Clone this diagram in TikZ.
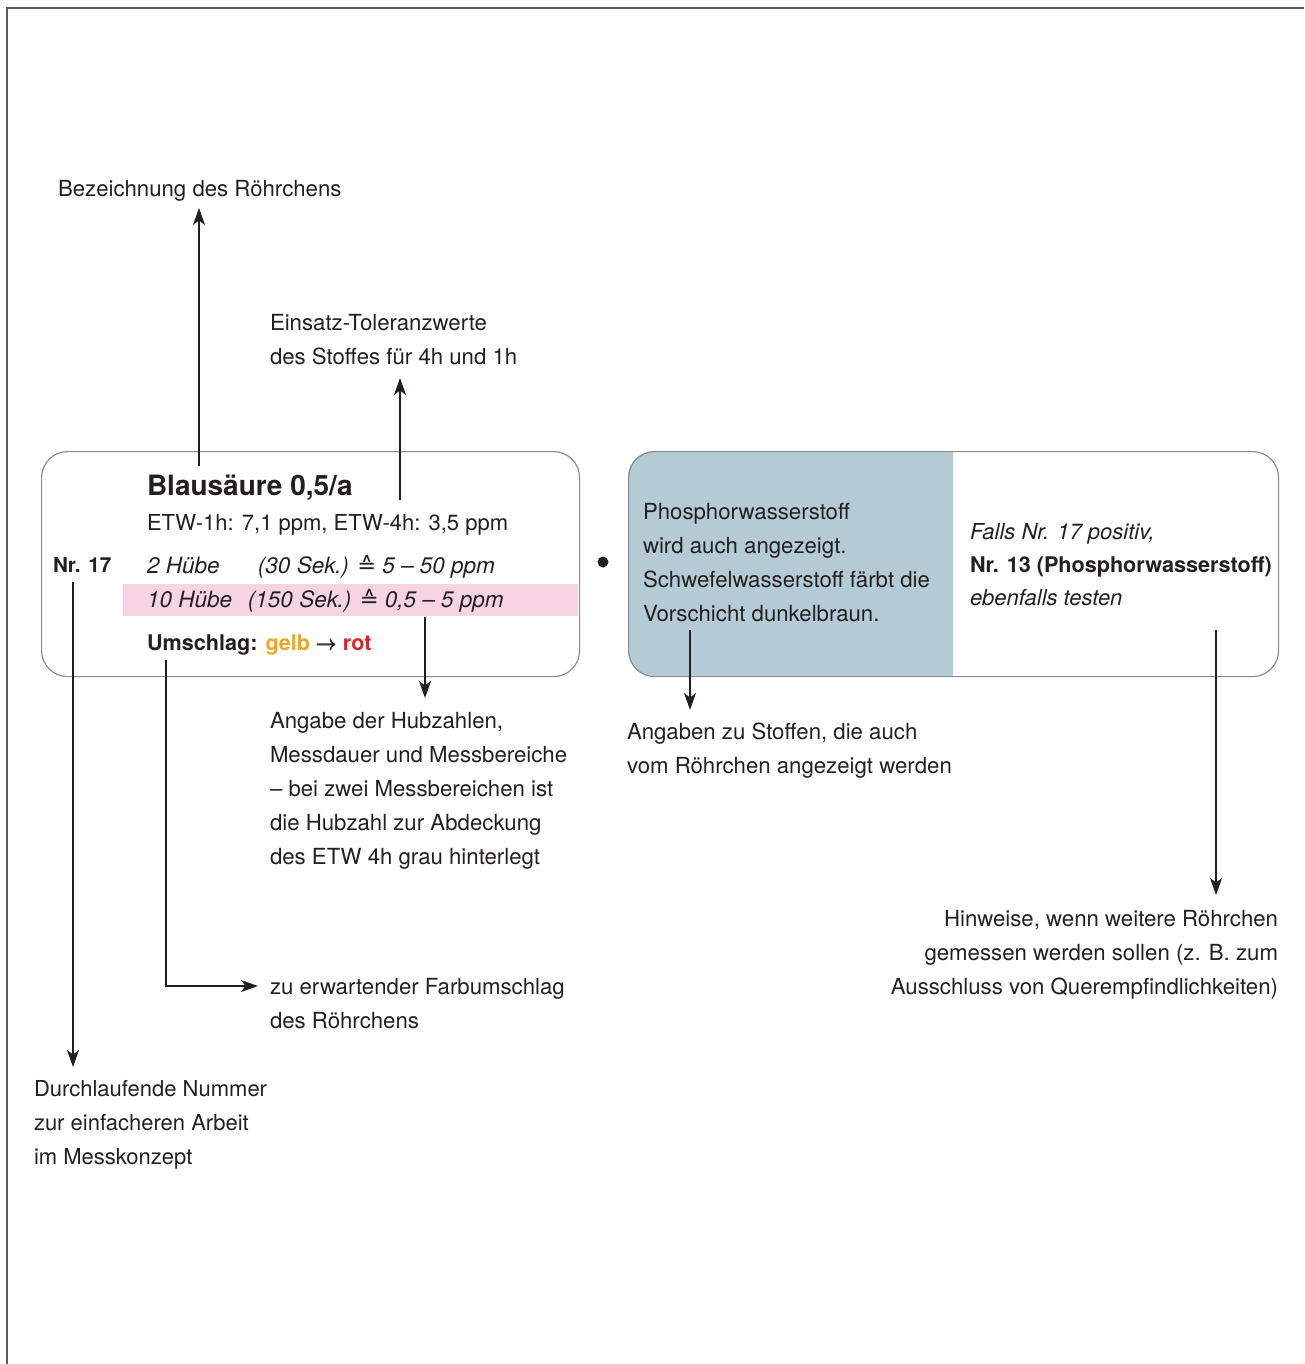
\documentclass[tikz,border=0pt]{standalone}
\usepackage{fontspec}
\usepackage{amsmath}
\setmainfont{TeX Gyre Heros}
\newfontfamily\symfont{DejaVu Sans}
\usetikzlibrary{arrows.meta}

\definecolor{ink}{HTML}{231F20}
\definecolor{framegray}{HTML}{5A5A5A}
\definecolor{boxline}{HTML}{8C8C8C}
\definecolor{pinkband}{HTML}{F7D4E4}
\definecolor{bluegray}{HTML}{B4CAD5}
\definecolor{gelb}{HTML}{F7A21B}
\definecolor{rot}{HTML}{E61E2A}

\newcommand\entspricht{{\symfont\itshape ≙}}

\tikzset{
  body/.style={font=\fontsize{22.2}{34}\selectfont},
  txt/.style={inner sep=0pt, outer sep=0pt, text=ink, align=left, body},
  arr/.style={draw=ink, line width=1.3pt, -{Stealth[length=17pt,width=12pt,inset=4.5pt]}},
  card/.style={draw=boxline, line width=1.2pt, rounded corners=26pt,
               inner sep=0pt, anchor=north west},
}

\begin{document}
\begin{tikzpicture}[x=1pt, y=-1pt]
\useasboundingbox (0,0) rectangle (1304,1364);

% page frame (top and left rule)
\draw[framegray, line width=2pt] (7,1364) -- (7,8) -- (1304,8);

% ---------- left card: tube entry ----------
\fill[pinkband] (123,584) rectangle (578,616);
\node[card, minimum width=538pt, minimum height=225pt] (card1) at (41,451) {};

\node[txt, anchor=base west, font=\bfseries\fontsize{28}{30}\selectfont] (title) at (147,495) {Blausäure 0,5/a};
\node[txt, anchor=base west, font=\fontsize{22}{34}\selectfont] (etw) at (147,530) {ETW-1h: 7,1 ppm, ETW-4h: 3,5 ppm};
\node[txt, anchor=base west, font=\fontsize{22.5}{34}\selectfont\itshape] (row1) at (147,573)
  {\makebox[111pt][l]{2 Hübe}(30 Sek.) \entspricht{} 5 – 50 ppm};
\node[txt, anchor=base west, font=\fontsize{22.5}{34}\selectfont\itshape] (row2) at (147,607)
  {\makebox[101pt][l]{10 Hübe}(150 Sek.) \entspricht{} 0,5 – 5 ppm};
\node[txt, anchor=base west, font=\bfseries\fontsize{21.6}{34}\selectfont] (umschlag) at (147,650)
  {Umschlag: \textcolor{gelb}{gelb} \pmb{$\rightarrow$} \textcolor{rot}{rot}};
\node[txt, anchor=base west, font=\bfseries\fontsize{20.7}{30}\selectfont] (nr) at (53,572) {Nr. 17};

% separator dot
\node[circle, fill=ink, minimum size=11pt, inner sep=0pt] (dot) at (603,562) {};

% ---------- right card: cross sensitivities and hints ----------
\begin{scope}
  \clip (628,451) rectangle (953,676);
  \fill[bluegray, rounded corners=26pt] (628,451) rectangle (1278,676);
\end{scope}
\node[card, minimum width=650pt, minimum height=225pt] (card2) at (628,451) {};

\node[txt, anchor=north west] (also) at (643,503)
  {Phosphorwasserstoff\\wird auch angezeigt.\\Schwefelwasserstoff färbt die\\Vorschicht dunkelbraun.};
\node[txt, anchor=north west, font=\fontsize{22}{33}\selectfont] (hint) at (970,523)
  {\textit{Falls Nr. 17 positiv,}\\{\bfseries\fontsize{21.6}{33}\selectfont Nr. 13 (Phosphorwasserstoff)}\\\textit{ebenfalls testen}};

% ---------- explanatory labels ----------
\node[txt, anchor=north west] (lblName) at (58,180) {Bezeichnung des Röhrchens};
\node[txt, anchor=north west] (lblEtw) at (270,314) {Einsatz-Toleranzwerte\\des Stoffes für 4h und 1h};
\node[txt, anchor=north west] (lblHub) at (270,712)
  {Angabe der Hubzahlen,\\Messdauer und Messbereiche\\– bei zwei Messbereichen ist\\die Hubzahl zur Abdeckung\\des ETW 4h grau hinterlegt};
\node[txt, anchor=north west] (lblFarbe) at (270,978) {zu erwartender Farbumschlag\\des Röhrchens};
\node[txt, anchor=north west, font=\fontsize{22}{34}\selectfont] (lblNr) at (34,1080) {Durchlaufende Nummer\\zur einfacheren Arbeit\\im Messkonzept};
\node[txt, anchor=north west] (lblAlso) at (627,723) {Angaben zu Stoffen, die auch\\vom Röhrchen angezeigt werden};
\node[txt, anchor=north east, align=right] (lblHint) at (1278,910)
  {Hinweise, wenn weitere Röhrchen\\gemessen werden sollen (z. B. zum\\Ausschluss von Querempfindlichkeiten)};

% ---------- connector end points ----------
\coordinate (nameFrom) at (199,466);  \coordinate (nameTo) at (199,208);
\coordinate (etwFrom)  at (400,500);  \coordinate (etwTo)  at (400,378);
\coordinate (hubFrom)  at (425,617);  \coordinate (hubTo)  at (425,698);
\coordinate (farbFrom) at (166,660);  \coordinate (farbTo) at (258,986);
\coordinate (nrFrom)   at (73,582);   \coordinate (nrTo)   at (73,1067);
\coordinate (alsoFrom) at (690,630);  \coordinate (alsoTo) at (690,710);
\coordinate (hintFrom) at (1216,630); \coordinate (hintTo) at (1216,895);

% ---------- connectors ----------
\draw[arr] (nameFrom) -- (nameTo);
\draw[arr] (etwFrom) -- (etwTo);
\draw[arr] (hubFrom) -- (hubTo);
\draw[arr] (farbFrom) |- (farbTo);
\draw[arr] (nrFrom) -- (nrTo);
\draw[arr] (alsoFrom) -- (alsoTo);
\draw[arr] (hintFrom) -- (hintTo);
\end{tikzpicture}
\end{document}
